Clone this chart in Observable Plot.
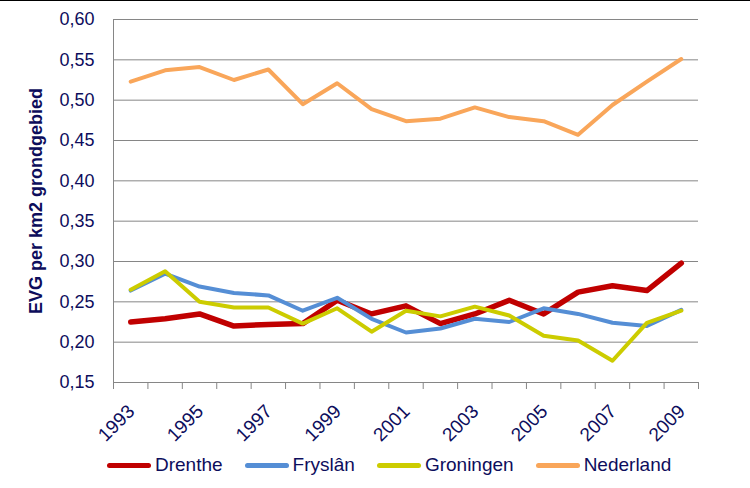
<!DOCTYPE html>
<html><head><meta charset="utf-8">
<script src="https://cdn.jsdelivr.net/npm/d3@7"></script>
<script src="https://cdn.jsdelivr.net/npm/@observablehq/plot@0.6"></script>
<style>
body{margin:0;background:#fff;font-family:"Liberation Sans",Arial,sans-serif;}
#wrap{position:relative;width:750px;height:488px;overflow:hidden;background:#fff;}
#chart{position:absolute;left:0;top:0;}
#topline{position:absolute;left:0;top:0;width:750px;height:1px;background:#000;}
#legend{position:absolute;left:107px;top:454px;display:flex;align-items:center;font-size:19px;line-height:22px;color:#0d0d5c;white-space:nowrap;}
.item{display:flex;align-items:center;margin-right:22px;}
.sw{width:44px;height:5px;border-radius:3px;margin-right:4px;}
</style></head><body>
<div id="wrap"><div id="chart"></div><div id="topline"></div><div id="legend"></div></div>
<script>
const years = [1993,1994,1995,1996,1997,1998,1999,2000,2001,2002,2003,2004,2005,2006,2007,2008,2009];
const drenthe   = [0.225,0.229,0.235,0.220,0.222,0.223,0.252,0.235,0.245,0.223,0.235,0.252,0.235,0.262,0.270,0.264,0.298];
const fryslan   = [0.264,0.285,0.269,0.261,0.258,0.239,0.255,0.229,0.212,0.217,0.229,0.225,0.242,0.235,0.224,0.220,0.240];
const groningen = [0.265,0.288,0.250,0.243,0.243,0.223,0.242,0.213,0.239,0.232,0.244,0.233,0.208,0.202,0.177,0.224,0.239];
const nederland = [0.523,0.537,0.541,0.525,0.538,0.495,0.521,0.489,0.474,0.477,0.491,0.479,0.474,0.457,0.494,0.523,0.551];
const seriesNames = ["Drenthe","Fryslân","Groningen","Nederland"];
const seriesValues = [drenthe, fryslan, groningen, nederland];
const seriesColors = ["#c00000","#558ed5","#cccc00","#f9a65a"];
const seriesWidths = [5.5,4,4,4];
const yTicks = [0.15,0.20,0.25,0.30,0.35,0.40,0.45,0.50,0.55,0.60];
const xLabelYears = [1993,1995,1997,1999,2001,2003,2005,2007,2009];
const yTitle = "EVG per km2 grondgebied";

const navy = "#0d0d5c";
const grid = "#868686";
const boundaries = years.map(y => y - 0.5).concat([years[years.length - 1] + 0.5]);

const lineMarks = seriesValues.map((vals, i) =>
  Plot.line(years.map((y, j) => ({year: y, value: vals[j]})), {
    x: "year", y: "value", stroke: seriesColors[i], strokeWidth: seriesWidths[i],
    strokeLinejoin: "round", strokeLinecap: "round"
  })
);

const chart = Plot.plot({
  width: 750, height: 488,
  marginLeft: 113, marginRight: 52, marginTop: 19, marginBottom: 106,
  style: {fontFamily: "'Liberation Sans', Arial, sans-serif", fontSize: "18px", color: navy, background: "transparent"},
  x: {type: "linear", domain: [boundaries[0], boundaries[boundaries.length - 1]], axis: null},
  y: {domain: [0.15, 0.60], axis: null},
  marks: [
    Plot.ruleY(yTicks, {stroke: grid, strokeWidth: 1}),
    Plot.ruleX([boundaries[0]], {stroke: grid, strokeWidth: 1}),
    Plot.axisX({ticks: boundaries, tickSize: 7, tickFormat: () => "", stroke: grid, label: null}),
    Plot.axisY({ticks: yTicks, tickSize: 0, tickPadding: 19, tickFormat: d => d.toFixed(2).replace(".", ","), fill: navy, fontSize: 18, label: null}),
    Plot.text(xLabelYears, {x: d => d, frameAnchor: "bottom", text: d => String(d), rotate: -45, textAnchor: "end", lineAnchor: "bottom", dx: 5, dy: 30, fontSize: 19, fill: navy}),
    Plot.text([yTitle], {frameAnchor: "left", text: d => d, rotate: -90, textAnchor: "middle", lineAnchor: "middle", dx: -77, fontSize: 18, fontWeight: "bold", fill: navy}),
    ...lineMarks
  ]
});
document.getElementById("chart").appendChild(chart);

const legend = document.getElementById("legend");
seriesNames.forEach((name, i) => {
  const item = document.createElement("div");
  item.className = "item";
  const sw = document.createElement("div");
  sw.className = "sw";
  sw.style.background = seriesColors[i];
  const label = document.createElement("span");
  label.textContent = name;
  item.appendChild(sw);
  item.appendChild(label);
  legend.appendChild(item);
});
</script>
</body></html>
